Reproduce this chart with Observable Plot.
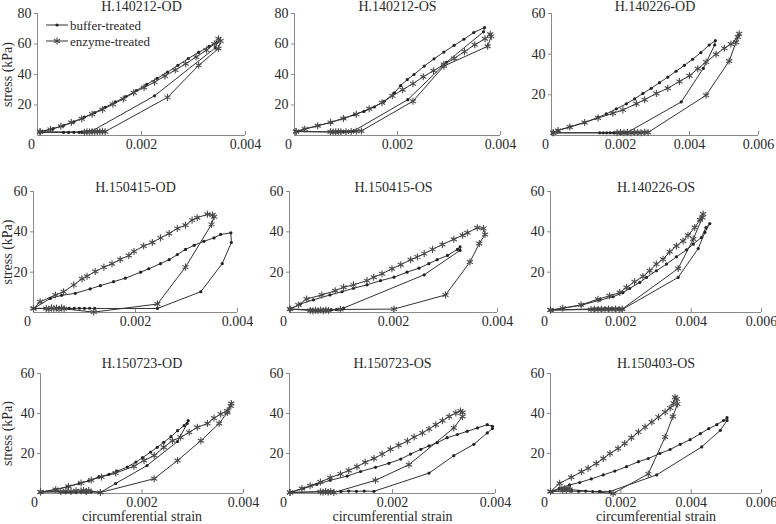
<!DOCTYPE html>
<html><head><meta charset="utf-8">
<script src="https://cdn.jsdelivr.net/npm/d3@7"></script>
<script src="https://cdn.jsdelivr.net/npm/@observablehq/plot@0.6"></script>
<style>
body{margin:0;background:#fff;}
#chart{position:relative;width:776px;height:524px;overflow:hidden;font-family:Liberation Serif, Times New Roman, serif;background:#fff;}
.panel{position:absolute;}
.panel svg{background:transparent;overflow:visible;font-family:Liberation Serif, Times New Roman, serif;}
.panel svg text{font-family:Liberation Serif, Times New Roman, serif;}
</style></head><body><div id="chart"></div>
<script>
// strain values below are in units of 1e-3 (converted to strain when drawn); stress in kPa
const titles = ["H.140212-OD","H.140212-OS","H.140226-OD","H.150415-OD","H.150415-OS","H.140226-OS","H.150723-OD","H.150723-OS","H.150403-OS"];
const seriesNames = ["buffer-treated","enzyme-treated"];
const xMaxes = [0.004,0.004,0.006,0.004,0.004,0.006,0.004,0.004,0.006];
const yMaxes = [80,80,60,60,60,60,60,60,60];
const xTicks4 = [0,0.002,0.004];
const xTicks6 = [0,0.002,0.004,0.006];
const yTicks80 = [20,40,60,80];
const yTicks60 = [20,40,60];

const buffer1 = [[0.05,2.5],[0.3,4.5],[0.5,6.5],[0.7,9],[0.9,12],[1.1,15],[1.3,18.5],[1.5,22],[1.7,25.5],[1.9,29.5],[2.1,33.5],[2.3,37.5],[2.5,41.5],[2.7,46],[2.9,50.5],[3.1,54.5],[3.3,58.5],[3.45,61],[3.42,57.5],[2.25,26],[1.05,3],[1.0,2.5],[0.95,2.3],[0.9,2.2],[0.85,2.2],[0.8,2.1],[0.7,2.1],[0.6,2],[0.5,2],[0.05,2]];
const enzyme1 = [[0.05,2.5],[0.25,4],[0.45,6],[0.65,8.5],[0.85,11],[1.05,14],[1.25,17],[1.45,20.5],[1.65,24],[1.85,28],[2.05,31.5],[2.25,35],[2.45,39],[2.65,43],[2.85,47],[3.05,51.5],[3.25,56],[3.4,60],[3.48,63.5],[3.52,62],[3.48,57],[3.1,46],[2.5,25],[1.3,2.5],[1.25,2.7],[1.2,2.5],[1.15,2.6],[1.1,2.4],[1.05,2.5],[1.0,2.3],[0.95,2.4],[0.9,2.2],[0.05,2.5]];

const buffer2 = [[0.03,2.6],[0.19,4.2],[0.45,6.4],[0.71,8.6],[0.97,11.4],[1.16,13.6],[1.35,15.8],[1.55,18.7],[1.74,22.4],[1.94,27.9],[2.06,32.7],[2.19,36.7],[2.32,40],[2.52,45.5],[2.71,50.3],[2.9,54.7],[3.1,59.1],[3.29,63.1],[3.48,67.5],[3.69,70.8],[3.67,68],[2.95,48],[2.2,23.5],[1.15,3],[1.1,2.6],[1.0,2.5],[0.95,2.4],[0.9,2.4],[0.85,2.3],[0.8,2.3],[0.75,2.3],[0.7,2.3],[0.03,2.6]];
const enzyme2 = [[0.03,2.6],[0.2,4.2],[0.45,6.4],[0.7,8.6],[0.95,11.2],[1.2,14],[1.45,17.5],[1.7,21.5],[1.9,26],[2.1,30],[2.3,34],[2.5,38.5],[2.7,42.5],[2.9,46.5],[3.1,50.5],[3.3,55],[3.5,59.5],[3.7,63.5],[3.8,66.4],[3.82,65],[3.75,58.5],[2.9,45.5],[2.3,22.5],[1.3,3],[1.2,2.8],[1.1,2.6],[1.0,2.5],[0.9,2.4],[0.85,2.5],[0.8,2.4],[0.75,2.3],[0.7,2.4],[0.03,2.6]];

const buffer3 = [[0.05,1.3],[0.19,2.5],[0.53,4.2],[0.96,6.4],[1.35,8.9],[1.59,10.6],[1.88,13.1],[2.17,15.6],[2.41,18],[2.65,20.7],[2.89,23.2],[3.13,26],[3.37,28.7],[3.61,31.6],[3.85,34.5],[4.09,37.5],[4.33,40.8],[4.57,44.5],[4.75,46.7],[4.73,44.5],[4.4,33],[3.76,16.5],[2.2,1.5],[2.15,1.3],[2.1,1.4],[2.05,1.3],[2.0,1.2],[1.9,1.3],[1.8,1.3],[1.7,1.3],[1.6,1.3],[1.5,1.3],[1.4,1.3],[0.05,1.3]];
const enzyme3 = [[0.05,1.3],[0.19,2.5],[0.53,4.2],[0.96,6.4],[1.35,8.6],[1.78,10.9],[2.07,12.6],[2.46,15.6],[2.7,17.6],[3.04,20.7],[3.37,23.2],[3.71,26.6],[4.0,29.4],[4.24,32.8],[4.48,36.1],[4.77,40],[5.01,42.9],[5.2,45],[5.4,48.4],[5.44,50],[5.35,45.9],[5.15,36.6],[4.48,19.8],[2.8,1.5],[2.7,1.6],[2.6,1.4],[2.5,1.5],[2.4,1.5],[2.3,1.4],[2.2,1.5],[2.1,1.4],[2.0,1.5],[1.9,1.4],[0.05,1.3]];

const buffer4 = [[0,2],[0.33,7],[0.55,8.5],[0.82,9.5],[1.11,11.7],[1.31,13.3],[1.57,15.3],[1.8,17],[2.1,20],[2.26,21.7],[2.49,24.2],[2.66,26.2],[2.82,28.7],[2.98,31.3],[3.15,33.3],[3.34,35.3],[3.54,37],[3.67,38.7],[3.87,39.5],[3.88,34.7],[3.7,24.2],[3.28,10.3],[2.43,2],[1.2,2],[1.1,2.1],[1.0,2],[0.9,2.1],[0.8,2],[0.7,2.1],[0.6,2],[0.5,2.1],[0,2]];
const enzyme4 = [[0,2],[0.13,5.3],[0.43,8.7],[0.59,10.3],[0.79,13.7],[0.95,16.7],[1.05,18],[1.21,20.3],[1.38,22.5],[1.54,24.2],[1.7,26.3],[1.87,28.3],[1.97,30.3],[2.16,33],[2.33,34.7],[2.49,37],[2.66,39.2],[2.82,41.7],[2.98,43.3],[3.11,45.8],[3.21,47],[3.41,48.7],[3.51,48.3],[3.54,47.5],[3.49,43.7],[2.98,22.5],[2.43,4.2],[1.18,0.2],[0.6,1.8],[0.55,2.3],[0.5,1.6],[0.45,2.2],[0.4,1.8],[0.35,2.3],[0.3,1.6],[0.25,2],[0,2]];

const buffer5 = [[0.01,1.7],[0.21,4.2],[0.46,6.3],[0.78,8.7],[1.01,10.3],[1.23,12],[1.49,13.7],[1.75,15.8],[2.01,17.5],[2.26,20],[2.49,22],[2.68,24.2],[2.84,26.2],[3.04,28.3],[3.23,31.3],[3.28,32.5],[3.28,30.8],[2.59,18.7],[1.04,2.2],[0.9,1.5],[0.8,1.4],[0.7,1.3],[0.6,1.2],[0.5,1.3],[0.4,1.4],[0.01,1.7]];
const enzyme5 = [[0.01,1.7],[0.17,3.7],[0.33,6.7],[0.62,8.7],[0.88,10.8],[1.04,12.5],[1.23,13.7],[1.49,15.8],[1.62,17.5],[1.78,19.2],[1.97,21.7],[2.14,23.7],[2.33,26.2],[2.46,27.5],[2.59,29.2],[2.75,31.3],[2.94,33.7],[3.16,36.3],[3.33,38.3],[3.42,39.5],[3.61,42],[3.73,41.7],[3.76,38.7],[3.65,34.2],[3.47,25],[3.0,8.7],[2.01,1.7],[0.98,1.5],[0.75,1],[0.7,1.2],[0.65,0.8],[0.6,1.2],[0.55,0.9],[0.5,1.1],[0.45,0.8],[0.4,1],[0.01,1.7]];

const buffer6 = [[0,1.2],[0.35,2.1],[0.87,3.6],[1.4,6.1],[1.78,7.8],[2.06,9.9],[2.25,11.9],[2.54,14.9],[2.73,17.4],[3.01,20.7],[3.3,24],[3.58,27.6],[3.87,31.1],[4.06,33.9],[4.29,37.2],[4.42,42.1],[4.53,44.1],[4.39,39.7],[4.2,31.7],[3.63,17.4],[2.06,1.7],[1.95,1.9],[1.85,1.8],[1.75,1.9],[1.65,1.8],[1.55,1.9],[1.45,1.8],[1.35,1.9],[1.25,1.8],[0,1.2]];
const enzyme6 = [[0,1.2],[0.35,2.1],[0.87,3.8],[1.35,6.6],[1.68,8.3],[1.97,9.9],[2.16,12.4],[2.39,15.2],[2.63,17.9],[2.82,20.7],[3.01,24],[3.2,26.4],[3.39,30.1],[3.58,33],[3.77,35.5],[3.91,38.3],[4.1,42.1],[4.25,46],[4.34,48.8],[4.32,47.1],[4.06,36.4],[3.63,21.8],[2.04,1.7],[1.95,1.5],[1.85,1.7],[1.75,1.5],[1.65,1.7],[1.55,1.5],[1.45,1.6],[1.35,1.5],[1.25,1.6],[1.15,1.5],[0,1.2]];

const buffer7 = [[0,0.5],[0.3,2],[0.53,3.3],[0.76,5],[0.95,6.3],[1.15,8.3],[1.35,9.6],[1.51,11.2],[1.71,13.2],[1.88,15.7],[2.01,17.9],[2.17,20.7],[2.3,23.1],[2.43,25.6],[2.57,28.4],[2.7,31.4],[2.83,33.9],[2.91,36.4],[2.89,35],[2.7,26],[2.1,14],[1.48,5],[1.18,0.5],[1.0,0.8],[0.9,0.6],[0.8,0.8],[0.7,0.6],[0.6,0.7],[0.5,0.6],[0.4,0.8],[0,0.8]];
const enzyme7 = [[0,0.8],[0.3,2],[0.55,3.5],[0.8,5.2],[1.0,6.8],[1.2,8.3],[1.48,10.2],[1.84,13.6],[2.04,16.5],[2.24,19],[2.43,23.1],[2.6,26.4],[2.76,28.1],[2.93,30.6],[3.09,33.1],[3.29,35],[3.42,37.7],[3.55,39.7],[3.68,41.3],[3.75,43.8],[3.76,45],[3.68,40.5],[3.52,35],[3.16,26.4],[2.7,16.5],[2.24,7.4],[1.18,0.5],[0.95,1.5],[0.9,1],[0.85,1.5],[0.8,1.2],[0.7,1.4],[0.6,1],[0.5,1.2],[0.4,0.9],[0,0.8]];

const buffer8 = [[0.01,0.5],[0.27,2.5],[0.53,4.6],[0.79,6.6],[1.12,8.7],[1.38,11],[1.67,13.1],[1.93,15.1],[2.16,17.2],[2.35,19.7],[2.55,22.1],[2.71,23.8],[2.87,25.4],[3.06,27.9],[3.26,29.5],[3.45,31.1],[3.65,32.8],[3.84,34.4],[3.94,33.6],[3.94,32.5],[3.84,30.3],[3.58,24.6],[3.19,18.9],[2.71,10.2],[1.64,1.1],[1.45,1.2],[1.3,1.1],[1.15,1.2],[1.0,1],[0.85,0.9],[0.75,1],[0.65,0.9],[0.01,0.5]];
const enzyme8 = [[0.01,0.5],[0.24,2.5],[0.4,3.9],[0.6,5.7],[0.79,7.9],[0.99,9.8],[1.15,11.5],[1.31,13.4],[1.47,15.6],[1.64,17.5],[1.8,19.7],[1.96,22.1],[2.12,24.1],[2.29,26.2],[2.42,28.2],[2.58,30.3],[2.71,32.3],[2.84,34.4],[2.97,36.4],[3.1,38.5],[3.23,40.2],[3.32,41.3],[3.36,40.5],[3.36,38.5],[3.19,32.8],[2.32,14.4],[1.67,6.6],[0.86,0.5],[0.8,1],[0.75,0.6],[0.7,1],[0.65,0.6],[0.6,0.9],[0.01,0.5]];

const buffer9 = [[0,1],[0.25,2.5],[0.54,4.3],[0.83,5.5],[1.16,7.3],[1.5,9.3],[1.83,11.2],[2.16,13.4],[2.5,15.9],[2.78,17.5],[3.11,20],[3.4,22],[3.69,24.6],[3.97,26.9],[4.26,29.9],[4.5,32.4],[4.73,34.4],[4.92,36.5],[5.02,37.9],[5.02,36.5],[4.83,31.6],[4.3,23.3],[3.02,9.3],[1.69,1],[1.4,1.1],[1.2,1],[1.0,1.2],[0.8,1.1],[0.6,1.2],[0,1]];
const enzyme9 = [[0,1],[0.26,5.1],[0.59,8.1],[0.88,10.9],[1.07,12.6],[1.3,15],[1.5,17.5],[1.69,20],[1.92,22.5],[2.11,25],[2.3,27.9],[2.5,30.7],[2.69,33.2],[2.88,35.7],[3.07,38.2],[3.26,40.7],[3.4,42.8],[3.5,45.1],[3.54,48.1],[3.59,47.3],[3.61,44.8],[3.48,38.5],[3.26,28.3],[2.78,9.8],[1.78,0],[0.55,2],[0.5,2.5],[0.45,1.8],[0.4,2.4],[0.35,1.8],[0.3,2.2],[0,1]];

const buffers = [buffer1,buffer2,buffer3,buffer4,buffer5,buffer6,buffer7,buffer8,buffer9];
const enzymes = [enzyme1,enzyme2,enzyme3,enzyme4,enzyme5,enzyme6,enzyme7,enzyme8,enzyme9];

// layout: page x of the y-axis, plot width, page y of plot top, plot height, title offset
const layout = [
  {x:37, w:208, top:13, h:122, t:7},
  {x:294, w:206, top:13, h:122, t:7},
  {x:551, w:207, top:13, h:122, t:7},
  {x:33, w:204, top:191, h:121, t:4},
  {x:289, w:208, top:191, h:121, t:4},
  {x:550, w:211, top:191, h:121, t:4},
  {x:40, w:203, top:373, h:120, t:10},
  {x:289, w:206, top:373, h:120, t:10},
  {x:550, w:211, top:373, h:120, t:10}
];

const FONT = "Liberation Serif, Times New Roman, serif";
const AX = "#8a8a8a", INK = "#2a2a2a", LINE = "#333";
const chart = document.getElementById("chart");
const ML = 44, MR = 16, MT = 20;

titles.forEach((title, i) => {
  const L = layout[i];
  const row = Math.floor(i / 3), col = i % 3;
  const MB = row === 2 ? 32 : 28;
  const xTicks = xMaxes[i] > 0.005 ? xTicks6 : xTicks4;
  const yTicks = yMaxes[i] > 60 ? yTicks80 : yTicks60;
  const toRec = a => a.map(([s, p]) => ({strain: s / 1000, stress: p}));
  const b = toRec(buffers[i]), e = toRec(enzymes[i]);
  const axText = {label: null, fill: INK, fontSize: 14, fontFamily: FONT};
  const marks = [
    Plot.ruleY([0], {stroke: AX}),
    Plot.ruleX([0], {stroke: AX}),
    Plot.ruleX(xTicks.slice(1), {stroke: AX, insetTop: L.h - 4}),
    Plot.axisY(yTicks, {...axText, tickSize: 3, tickPadding: 3, stroke: AX}),
    Plot.axisX(xTicks.slice(1), {...axText, tickSize: 0, tickPadding: 4,
      tickFormat: d => d.toFixed(3)}),
    Plot.axisX(xTicks.slice(0, 1), {...axText, tickSize: 0, tickPadding: 4, dx: -6,
      tickFormat: () => "0"}),
    Plot.line(b, {x: "strain", y: "stress", stroke: LINE, strokeWidth: 1}),
    Plot.line(e, {x: "strain", y: "stress", stroke: LINE, strokeWidth: 1}),
    Plot.dot(b, {x: "strain", y: "stress", r: 1.6, fill: "#222", stroke: "none"}),
    Plot.dot(e, {x: "strain", y: "stress", symbol: "asterisk", r: 3.3, stroke: "#4a4a4a", strokeWidth: 1.1}),
    Plot.text([title], {frameAnchor: "top", lineAnchor: "middle", dy: -L.t, fontSize: 14, fill: INK, fontFamily: FONT})
  ];
  if (col === 0) {
    marks.push(Plot.text(["stress (kPa)"], {frameAnchor: "left", textAnchor: "middle", lineAnchor: "middle",
      rotate: -90, dx: -(L.x - 7), fontSize: 14, fill: INK, fontFamily: FONT}));
  }
  if (row === 2) {
    marks.push(Plot.text(["circumferential strain"], {frameAnchor: "bottom", lineAnchor: "middle",
      dy: 23, fontSize: 14, fill: INK, fontFamily: FONT}));
  }
  const fig = Plot.plot({
    width: ML + L.w + MR,
    height: MT + L.h + MB,
    marginLeft: ML, marginRight: MR, marginTop: MT, marginBottom: MB,
    style: {fontFamily: FONT, fontSize: "14px", color: INK, background: "transparent", overflow: "visible"},
    x: {domain: [0, xMaxes[i]], axis: null},
    y: {domain: [0, yMaxes[i]], axis: null},
    marks
  });
  const div = document.createElement("div");
  div.className = "panel";
  div.style.left = (L.x - ML) + "px";
  div.style.top = (L.top - MT) + "px";
  div.style.width = (ML + L.w + MR) + "px";
  div.appendChild(fig);
  chart.appendChild(div);
});

// legend inside the first panel
const ns = "http://www.w3.org/2000/svg";
const leg = document.createElementNS(ns, "svg");
leg.setAttribute("width", 160); leg.setAttribute("height", 40);
leg.style.position = "absolute"; leg.style.left = "40px"; leg.style.top = "15px"; leg.style.overflow = "visible";
const sym = d3.symbol(d3.symbolAsterisk, Math.PI * 3.3 * 3.3)();
seriesNames.forEach((name, k) => {
  const y = 10 + k * 16;
  const line = document.createElementNS(ns, "line");
  line.setAttribute("x1", 6); line.setAttribute("x2", 28); line.setAttribute("y1", y); line.setAttribute("y2", y);
  line.setAttribute("stroke", LINE); line.setAttribute("stroke-width", 1);
  leg.appendChild(line);
  if (k === 0) {
    const c = document.createElementNS(ns, "circle");
    c.setAttribute("cx", 17); c.setAttribute("cy", y); c.setAttribute("r", 1.6); c.setAttribute("fill", "#222");
    leg.appendChild(c);
  } else {
    const p = document.createElementNS(ns, "path");
    p.setAttribute("d", sym); p.setAttribute("transform", `translate(17,${y})`);
    p.setAttribute("fill", "none"); p.setAttribute("stroke", "#4a4a4a"); p.setAttribute("stroke-width", 1.1);
    leg.appendChild(p);
  }
  const t = document.createElementNS(ns, "text");
  t.setAttribute("x", 30); t.setAttribute("y", y); t.setAttribute("dy", "0.35em");
  t.setAttribute("font-size", 13); t.setAttribute("fill", INK);
  t.style.fontFamily = FONT;
  t.textContent = name;
  leg.appendChild(t);
});
chart.appendChild(leg);
</script>
</body></html>
